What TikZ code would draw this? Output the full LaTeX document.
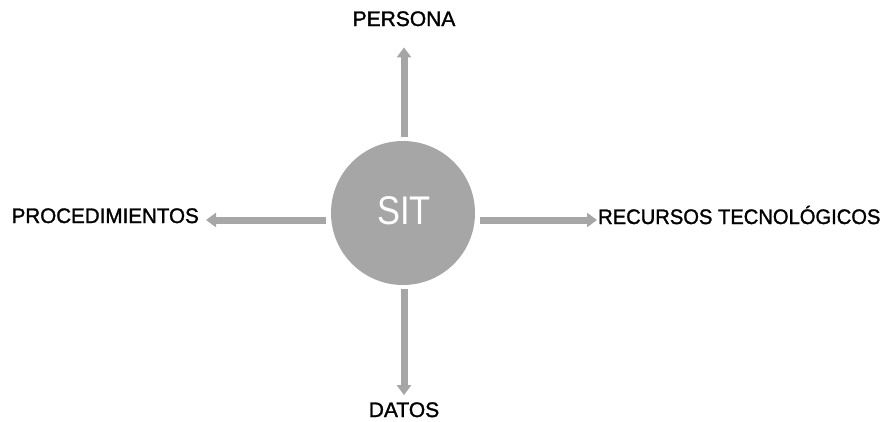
\documentclass[tikz,border=0pt]{standalone}
\usepackage{fontspec}
\setmainfont{Liberation Sans}
\newfontfamily\lblfont{Liberation Sans}[FakeBold=1.4]
\usetikzlibrary{arrows.meta}
\definecolor{sitgray}{HTML}{A6A6A6}
\tikzset{
  hub/.style={circle, fill=sitgray, draw=none, minimum size=144pt, inner sep=0pt},
  hubtext/.style={text=white, inner sep=0pt, font=\fontsize{40}{40}\selectfont, xscale=0.86},
  lbl/.style={inner sep=0pt, font=\lblfont\fontsize{21}{21}\selectfont, text=black},
  arr/.style={draw=sitgray, line width=7pt,
              -{Triangle[width=14pt,length=10pt]}}
}
\begin{document}
\begin{tikzpicture}[x=1pt,y=-1pt]
  \useasboundingbox (0,0) rectangle (882,421);
  % central circle and its caption
  \node[hub] (sit) at (403,213) {};
  \node[hubtext] (sittext) at (404,211) {SIT};
  % labels
  \node[lbl, anchor=base] (persona) at (404,26) {PERSONA};
  \node[lbl, anchor=base] (datos) at (404,417) {DATOS};
  \node[lbl, anchor=base east, xscale=0.98] (proc) at (199,223) {PROCEDIMIENTOS};
  \node[lbl, anchor=base west, xscale=0.96] (recursos) at (598,224) {RECURSOS TECNOLÓGICOS};
  % arrow ends
  \coordinate (tTop) at (sit.north -| persona.south);
  \coordinate (tBot) at (sit.south -| datos.north);
  % connectors
  \draw[arr] ([shift={(0,-4)}]tTop) -- ([shift={(0,21)}]persona.south);
  \draw[arr] ([shift={(0,4)}]tBot) -- ([shift={(0,-7)}]datos.north);
  \draw[arr] ([shift={(-5,7)}]sit.west) -- ([shift={(7,7)}]sit.west -| proc.east);
  \draw[arr] ([shift={(5,7)}]sit.east) -- ([shift={(-1,7)}]sit.east -| recursos.west);
\end{tikzpicture}
\end{document}
